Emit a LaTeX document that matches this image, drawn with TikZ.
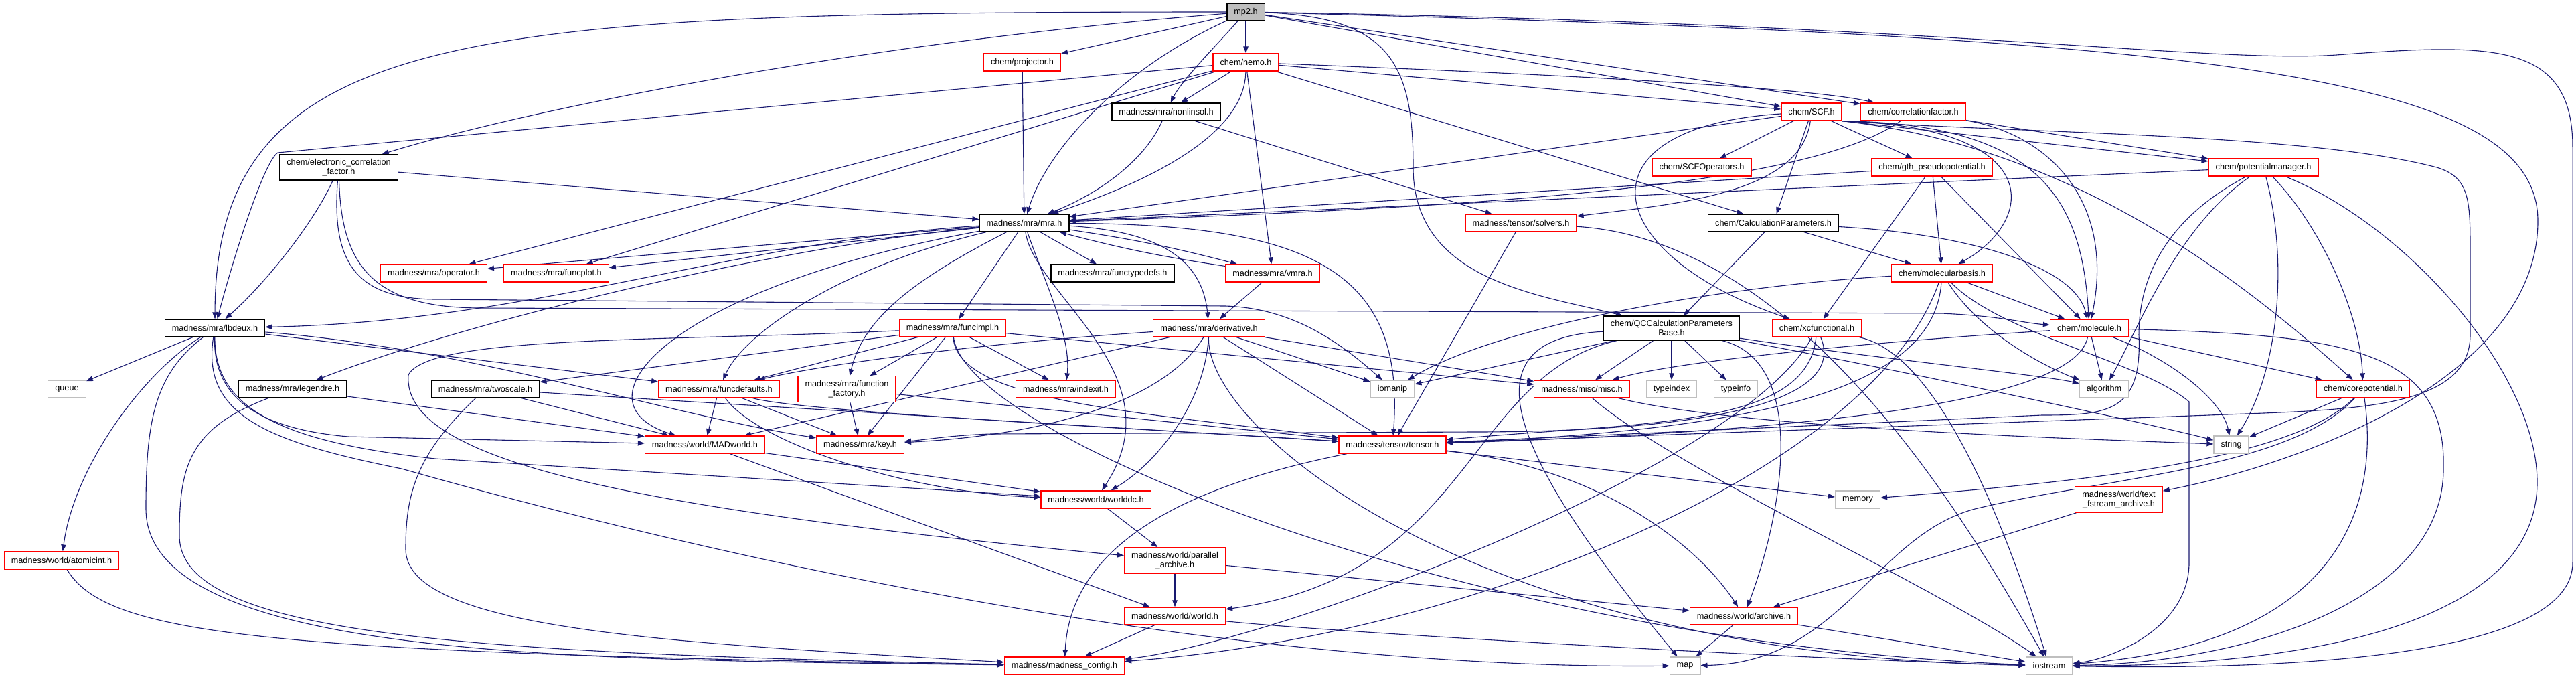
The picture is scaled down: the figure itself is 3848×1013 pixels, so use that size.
\documentclass[tikz,border=0pt]{standalone}
\usepackage{fontspec}
\setmainfont{Liberation Sans}
\usepackage{xcolor}
\usepackage{tikz}
\usetikzlibrary{
  arrows.meta,
  backgrounds
}
\definecolor{incEdge}{HTML}{191970}
\definecolor{incRed}{HTML}{FF0000}
\definecolor{incGray}{HTML}{BFBFBF}
\tikzset{
  incnode/.style={
    draw, rectangle, fill=white, line width=1.3pt, minimum height=26pt,
    inner xsep=10.5pt, inner ysep=6pt, font=\fontsize{12.7}{14.5}\selectfont, align=center
  },
  incbox/.style={incnode, draw=black},
  incred/.style={incnode, draw=incRed},
  incsys/.style={incnode, draw=incGray},
  incroot/.style={incnode, draw=black, fill=incGray},
  incedge/.style={-{Stealth[length=10pt, width=7.5pt, inset=0pt]}, line width=1.1pt, draw=incEdge}
}

\begin{document}
\begin{tikzpicture}[x=1pt, y=-1pt]
  \useasboundingbox (0,0) rectangle (3848,1013);
  % top rows
  \node[incroot] (mp2) at (1861,18) {mp2.h};
  \node[incred] (projector) at (1527,93) {chem/projector.h};
  \node[incred] (nemo) at (1861,93) {chem/nemo.h};
  \node[incbox] (nonlinsol) at (1742,167) {madness/mra/nonlinsol.h};
  \node[incred] (scf) at (2706,167) {chem/SCF.h};
  \node[incred] (corrFactor) at (2858,167) {chem/correlationfactor.h};
  \node[incbox] (elecCorr) at (506,250) {chem/electronic\_correlation\\\_factor.h};
  \node[incred] (scfOps) at (2542,250) {chem/SCFOperators.h};
  \node[incred] (gth) at (2886,250) {chem/gth\_pseudopotential.h};
  \node[incred] (potMgr) at (3381,250) {chem/potentialmanager.h};
  \node[incbox] (mra) at (1530,333) {madness/mra/mra.h};
  \node[incred] (solvers) at (2272,333) {madness/tensor/solvers.h};
  \node[incbox] (calcParams) at (2649,333) {chem/CalculationParameters.h};
  \node[incred] (operator) at (648,408) {madness/mra/operator.h};
  \node[incred] (funcplot) at (831,408) {madness/mra/funcplot.h};
  \node[incbox] (functypedefs) at (1662,408) {madness/mra/functypedefs.h};
  \node[incred] (vmra) at (1901,408) {madness/mra/vmra.h};
  \node[incred] (molBasis) at (2901,408) {chem/molecularbasis.h};
  \node[incbox] (lbdeux) at (321,490) {madness/mra/lbdeux.h};
  \node[incred] (funcimpl) at (1423,490) {madness/mra/funcimpl.h};
  \node[incred] (derivative) at (1806,490) {madness/mra/derivative.h};
  \node[incbox] (qcBase) at (2497,490) {chem/QCCalculationParameters\\Base.h};
  \node[incred] (xcfun) at (2714,490) {chem/xcfunctional.h};
  \node[incred] (molecule) at (3121,490) {chem/molecule.h};
  % lower rows
  \node[incsys] (queue) at (100,581) {queue};
  \node[incbox] (legendre) at (437,581) {madness/mra/legendre.h};
  \node[incbox] (twoscale) at (725,581) {madness/mra/twoscale.h};
  \node[incred] (funcdefaults) at (1074,581) {madness/mra/funcdefaults.h};
  \node[incred] (funcFactory) at (1265,581) {madness/mra/function\\\_factory.h};
  \node[incred] (indexit) at (1592,581) {madness/mra/indexit.h};
  \node[incsys] (iomanip) at (2080,581) {iomanip};
  \node[incred] (misc) at (2363,581) {madness/misc/misc.h};
  \node[incsys] (typeindex) at (2497,581) {typeindex};
  \node[incsys] (typeinfo) at (2593,581) {typeinfo};
  \node[incsys] (algorithm) at (3143,581) {algorithm};
  \node[incred] (corepot) at (3530,581) {chem/corepotential.h};
  \node[incred] (madworld) at (1053,664) {madness/world/MADworld.h};
  \node[incred] (key) at (1285,664) {madness/mra/key.h};
  \node[incred] (tensor) at (2080,664) {madness/tensor/tensor.h};
  \node[incsys] (string) at (3333,664) {string};
  \node[incred] (worlddc) at (1637,746) {madness/world/worlddc.h};
  \node[incsys] (memory) at (2775,746) {memory};
  \node[incred] (textArch) at (3165,746) {madness/world/text\\\_fstream\_archive.h};
  \node[incred] (atomicint) at (92,837) {madness/world/atomicint.h};
  \node[incred] (parArch) at (1755,837) {madness/world/parallel\\\_archive.h};
  \node[incred] (world) at (1755,920) {madness/world/world.h};
  \node[incred] (archive) at (2605,920) {madness/world/archive.h};
  \node[incred] (config) at (1590,994) {madness/madness\_config.h};
  \node[incsys] (map) at (2517,994) {map};
  \node[incsys] (iostream) at (3061,994) {iostream};

  \begin{scope}[on background layer]
  % mp2.h
  \foreach \n in {projector,nemo,scf,corrFactor}{\draw[incedge] (mp2) -- (\n);}
  \draw[incedge] (mp2) .. controls (700,18) and (322,40) .. (lbdeux);
  \draw[incedge] (mp2) .. controls (1300,62) and (800,160) .. (elecCorr);
  \draw[incedge] (mp2) .. controls (1680,100) and (1565,220) .. (mra);
  \draw[incedge] (mp2) .. controls (1815,70) and (1765,120) .. (nonlinsol);
  \draw[incedge] (mp2) .. controls (2080,25) and (2111,100) .. (2111,250) .. controls (2111,420) and (2300,440) .. (qcBase);
  \draw[incedge] (mp2) .. controls (3300,55) and (3791,110) .. (3791,330) .. controls (3791,560) and (3450,690) .. (textArch);
  \draw[incedge] (mp2) .. controls (2900,35) and (3300,95) .. (3490,82) .. controls (3720,65) and (3843,60) .. (3843,220) -- (3843,840) .. controls (3843,985) and (3400,1000) .. (iostream);
  % chem/electronic_correlation_factor.h
  \draw[incedge] (elecCorr) .. controls (470,330) and (400,420) .. (lbdeux);
  \draw[incedge] (elecCorr) -- (mra);
  \draw[incedge] (elecCorr) .. controls (495,390) and (530,446) .. (650,447) -- (1830,457) .. controls (1930,460) and (2000,510) .. (iomanip);
  \draw[incedge] (elecCorr) .. controls (510,400) and (560,460) .. (720,460) -- (2900,468) .. controls (2990,472) and (3020,482) .. (molecule);
  % chem/projector.h, chem/nemo.h
  \draw[incedge] (projector) -- (mra);
  \foreach \n in {nonlinsol,operator,funcplot,vmra,scf,calcParams}{\draw[incedge] (nemo) -- (\n);}
  \draw[incedge] (nemo) .. controls (1860,200) and (1720,270) .. (mra);
  \draw[incedge] (nemo) .. controls (2300,110) and (2700,130) .. (corrFactor);
  \draw[incedge] (nemo) -- (415,228) .. controls (395,240) and (350,380) .. (lbdeux);
  % madness/mra/nonlinsol.h
  \draw[incedge] (nonlinsol) .. controls (1710,240) and (1640,290) .. (mra);
  \draw[incedge] (nonlinsol) -- (solvers);
  % chem/SCF.h
  \foreach \n in {mra,scfOps,gth,calcParams}{\draw[incedge] (scf) -- (\n);}
  \draw[incedge] (scf.south east) -- (potMgr);
  \draw[incedge] (scf) .. controls (2690,290) and (2500,305) .. (solvers);
  \draw[incedge] (scf) .. controls (2350,190) and (2390,380) .. (xcfun);
  \draw[incedge] (scf.south east) .. controls (3060,190) and (3040,330) .. (molBasis);
  \draw[incedge] (scf.south east) .. controls (3050,185) and (3110,300) .. (molecule);
  \draw[incedge] (scf.south east) .. controls (3100,220) and (3350,420) .. (corepot);
  \draw[incedge] (scf.south east) .. controls (3050,200) and (3450,200) .. (3640,250) .. controls (3690,265) and (3690,300) .. (3690,380) -- (3690,500) .. controls (3690,615) and (3500,612) .. (3300,620) -- (tensor);
  % chem/correlationfactor.h
  \draw[incedge] (corrFactor) .. controls (2700,280) and (2200,310) .. (mra);
  \draw[incedge] (corrFactor) -- (potMgr);
  \draw[incedge] (corrFactor) .. controls (3060,200) and (3160,300) .. (molecule);
  % chem/gth_pseudopotential.h
  \foreach \n in {mra,molBasis,molecule,xcfun}{\draw[incedge] (gth) -- (\n);}
  % chem/potentialmanager.h
  \draw[incedge] (potMgr) -- (mra);
  \draw[incedge] (potMgr) .. controls (3250,340) and (3190,500) .. (algorithm);
  \draw[incedge] (potMgr) .. controls (3421,400) and (3400,560) .. (string);
  \draw[incedge] (potMgr) .. controls (3460,330) and (3525,460) .. (corepot);
  \draw[incedge] (potMgr) .. controls (3230,330) and (3195,420) .. (3195,500) .. controls (3200,615) and (3150,620) .. (3050,620) -- (tensor);
  \draw[incedge] (potMgr) .. controls (3600,340) and (3790,560) .. (3790,720) .. controls (3790,960) and (3350,995) .. (iostream);
  % chem/CalculationParameters.h
  \foreach \n in {qcBase,molBasis}{\draw[incedge] (calcParams) -- (\n);}
  \draw[incedge] (calcParams) .. controls (2950,350) and (3100,400) .. (molecule);
  % madness/tensor/solvers.h
  \draw[incedge] (solvers) -- (tensor);
  \draw[incedge] (solvers) .. controls (2700,360) and (2950,800) .. (iostream);
  % chem/QCCalculationParametersBase.h
  \foreach \n in {misc,typeindex,typeinfo,iomanip}{\draw[incedge] (qcBase) -- (\n);}
  \draw[incedge] (qcBase) .. controls (2700,540) and (2665,760) .. (archive);
  \draw[incedge] (qcBase) .. controls (2200,505) and (2230,650) .. (map);
  \draw[incedge] (qcBase) .. controls (2190,560) and (2200,860) .. (world);
  \draw[incedge] (qcBase) .. controls (2800,535) and (3050,560) .. (algorithm);
  \draw[incedge] (qcBase) .. controls (2800,545) and (3200,630) .. (string);
  % chem/xcfunctional.h
  \draw[incedge] (xcfun) .. controls (2700,640) and (2450,630) .. (tensor);
  \draw[incedge] (xcfun) .. controls (2760,600) and (2550,645) .. (2200,645) -- (1480,648) .. controls (1420,650) and (1380,657) .. (key);
  \draw[incedge] (xcfun) .. controls (2600,700) and (1900,960) .. (config);
  \draw[incedge] (xcfun) .. controls (2900,530) and (3000,800) .. (iostream);
  % madness/mra/mra.h
  \foreach \n in {operator,funcplot,funcimpl,functypedefs}{\draw[incedge] (mra) -- (\n);}
  \draw[incedge] (mra) .. controls (1100,360) and (800,480) .. (lbdeux);
  \draw[incedge] (mra) .. controls (1150,370) and (700,480) .. (legendre);
  \draw[incedge] (mra) .. controls (1250,400) and (1110,500) .. (funcdefaults);
  \draw[incedge] (mra) .. controls (1380,410) and (1290,470) .. (funcFactory);
  \draw[incedge] (mra) .. controls (1000,430) and (850,600) .. (madworld);
  \draw[incedge] (mra) .. controls (1560,420) and (1600,500) .. (indexit);
  \draw[incedge] (mra) .. controls (1720,345) and (1795,380) .. (derivative);
  \draw[incedge] (mra) .. controls (1545,440) and (1760,560) .. (worlddc);
  \draw[incedge] (mra) .. controls (1950,335) and (2100,400) .. (tensor);
  \draw[incedge] (mra) to[bend left=3] (vmra);
  \draw[incedge] (vmra) to[bend left=3] (mra);
  \draw[incedge] (vmra) -- (derivative);
  % madness/mra/derivative.h
  \foreach \n in {madworld,tensor,iomanip,misc}{\draw[incedge] (derivative) -- (\n);}
  \draw[incedge] (derivative) .. controls (1500,510) and (1250,540) .. (funcdefaults);
  \draw[incedge] (derivative) .. controls (1740,600) and (1560,650) .. (key);
  \draw[incedge] (derivative) .. controls (1800,600) and (1730,690) .. (worlddc);
  \draw[incedge] (derivative) .. controls (1800,640) and (2200,980) .. (iostream);
  % madness/mra/funcimpl.h
  \foreach \n in {funcdefaults,funcFactory,key,indexit,twoscale,misc}{\draw[incedge] (funcimpl) -- (\n);}
  \draw[incedge] (funcimpl) .. controls (1430,600) and (1700,615) .. (tensor);
  \draw[incedge] (funcimpl) .. controls (1440,650) and (2200,960) .. (iostream);
  \draw[incedge] (funcimpl) .. controls (1000,510) and (640,500) .. (610,560) .. controls (600,690) and (950,760) .. (parArch);
  % madness/mra/lbdeux.h
  \foreach \n in {queue,funcdefaults}{\draw[incedge] (lbdeux) -- (\n);}
  \draw[incedge] (lbdeux) .. controls (210,560) and (110,700) .. (atomicint);
  \draw[incedge] (lbdeux) .. controls (230,560) and (218,630) .. (218,760) .. controls (218,990) and (900,985) .. (config);
  \draw[incedge] (lbdeux) .. controls (300,620) and (400,660) .. (600,700) .. controls (1200,870) and (1900,1000) .. (map);
  \draw[incedge] (lbdeux) .. controls (700,520) and (1000,620) .. (key);
  \draw[incedge] (lbdeux) .. controls (318,590) and (380,640) .. (520,652) -- (madworld);
  \draw[incedge] (lbdeux) .. controls (320,610) and (420,660) .. (650,685) -- (worlddc);
  % second level
  \draw[incedge] (atomicint) .. controls (160,950) and (400,975) .. (config);
  \draw[incedge] (legendre) -- (madworld);
  \draw[incedge] (legendre) .. controls (280,640) and (268,700) .. (268,800) .. controls (268,950) and (700,975) .. (config);
  \foreach \n in {madworld,tensor}{\draw[incedge] (twoscale) -- (\n);}
  \draw[incedge] (twoscale) .. controls (620,680) and (606,740) .. (606,820) .. controls (606,940) and (1000,960) .. (config);
  \foreach \n in {madworld,key}{\draw[incedge] (funcdefaults) -- (\n);}
  \draw[incedge] (funcdefaults) .. controls (1200,615) and (1700,640) .. (tensor);
  \draw[incedge] (funcdefaults) .. controls (1130,660) and (1350,735) .. (worlddc);
  \foreach \n in {key,tensor}{\draw[incedge] (funcFactory) -- (\n);}
  \foreach \n in {worlddc,world}{\draw[incedge] (madworld) -- (\n);}
  \draw[incedge] (worlddc) -- (parArch);
  \foreach \n in {world,archive}{\draw[incedge] (parArch) -- (\n);}
  \draw[incedge] (world) -- (config);
  \draw[incedge] (world) .. controls (2000,945) and (2700,985) .. (iostream);
  % madness/tensor/tensor.h, madness/misc/misc.h
  \draw[incedge] (tensor) .. controls (1800,720) and (1600,800) .. (config);
  \draw[incedge] (tensor) -- (memory);
  \draw[incedge] (tensor) .. controls (2400,700) and (2540,820) .. (archive);
  \draw[incedge] (misc) .. controls (2600,640) and (3100,655) .. (string);
  \draw[incedge] (misc) .. controls (2500,700) and (2900,880) .. (iostream);
  \foreach \n in {map,iostream}{\draw[incedge] (archive) -- (\n);}
  \draw[incedge] (textArch) -- (archive);
  % chem/molecularbasis.h, chem/molecule.h, chem/corepotential.h
  \draw[incedge] (molBasis) -- (molecule);
  \draw[incedge] (molBasis) .. controls (2890,560) and (2700,640) .. (tensor);
  \draw[incedge] (molBasis) .. controls (2960,500) and (3060,550) .. (algorithm);
  \draw[incedge] (molBasis) .. controls (2600,425) and (2250,480) .. (iomanip);
  \draw[incedge] (molBasis) .. controls (2990,500) and (3200,540) .. (3270,600) -- (3270,840) .. controls (3270,940) and (3150,985) .. (iostream);
  \draw[incedge] (molBasis) .. controls (2800,700) and (2200,950) .. (config);
  \foreach \n in {algorithm,corepot}{\draw[incedge] (molecule) -- (\n);}
  \draw[incedge] (molecule) .. controls (3250,540) and (3320,600) .. (string);
  \draw[incedge] (molecule) .. controls (2800,510) and (2500,540) .. (misc);
  \draw[incedge] (molecule) .. controls (3100,600) and (2700,645) .. (tensor);
  \draw[incedge] (molecule) .. controls (3500,500) and (3655,520) .. (3650,700) .. controls (3650,900) and (3350,990) .. (iostream);
  \draw[incedge] (corepot) -- (string);
  \draw[incedge] (corepot) .. controls (3420,690) and (3100,720) .. (memory);
  \draw[incedge] (corepot) .. controls (3420,700) and (3150,712) .. (2950,760) .. controls (2800,800) and (2750,990) .. (map);
  \draw[incedge] (corepot) .. controls (3550,720) and (3530,960) .. (iostream);
  \end{scope}
\end{tikzpicture}
\end{document}
